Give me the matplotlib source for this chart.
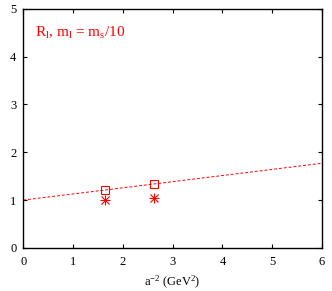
import numpy as np
import matplotlib.pyplot as plt

plt.rcParams['font.family'] = ['Liberation Serif', 'DejaVu Serif']
plt.rcParams['mathtext.fontset'] = 'custom'
plt.rcParams['mathtext.rm'] = 'Liberation Serif'
plt.rcParams['mathtext.it'] = 'Liberation Serif'

# data
a2 = [1.65, 2.63]
r_open = [1.21, 1.33]
r_star = [1.01, 1.04]
fit_x = [0.0, 6.0]
fit_y = [1.0, 1.77]

fig, ax = plt.subplots(figsize=(3.32, 2.91), dpi=100)
fig.subplots_adjust(left=0.07, right=0.97, top=0.97, bottom=0.148)

ax.plot(fit_x, fit_y, color='red', ls=(0, (3, 2)), lw=0.7)
ax.plot(a2, r_open, ls='none', marker='s', ms=5.5, mfc='none', mec='red', mew=0.8)
# gnuplot style asterisk: plus and cross on top of each other
ax.plot(a2, r_star, ls='none', marker='+', ms=7, mec='red', mew=0.8)
ax.plot(a2, r_star, ls='none', marker='x', ms=6, mec='red', mew=0.8)

ax.set_xlim(0, 6)
ax.set_ylim(0, 5)
ax.tick_params(direction='in', top=True, right=True, labelsize=9, length=3)
ax.tick_params(axis='x', pad=6)
ax.tick_params(axis='y', pad=5)
ax.set_xticks(range(7))
ax.set_yticks(range(6))
for s in ax.spines.values():
    s.set_linewidth(1.0)

ax.set_xlabel(r'a$^{-2}$ (GeV$^2$)', fontsize=9, labelpad=4)
ax.text(0.04, 0.9, r'R$_{\rm l}$, m$_{\rm l}$ = m$_{\rm s}$/10', color='red',
        fontsize=11, transform=ax.transAxes, va='center')

fig.savefig('out.png')
